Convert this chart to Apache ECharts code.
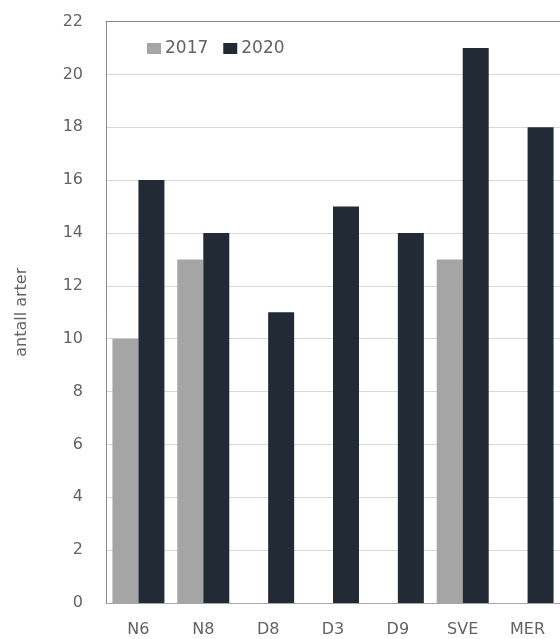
<!DOCTYPE html>
<html>
<head>
<meta charset="utf-8">
<script src="https://cdn.jsdelivr.net/npm/echarts@6/dist/echarts.min.js"></script>
<style>
html,body{margin:0;padding:0;background:#fff;}
#chart{width:560px;height:639px;}
</style>
</head>
<body>
<div id="chart"></div>
<script>
const categories = ['N6', 'N8', 'D8', 'D3', 'D9', 'SVE', 'MER'];
const values2017 = [10, 13, null, null, null, 13, null];
const values2020 = [16, 14, 11, 15, 14, 21, 18];
const seriesNames = ['2017', '2020'];
const yAxisName = 'antall arter';

const chart = echarts.init(document.getElementById('chart'), null, {renderer: 'canvas'});
const font = '"DejaVu Sans", sans-serif';
const txt = '#636363';
chart.setOption({
  animation: false,
  backgroundColor: '#ffffff',
  grid: {
    left: 106, right: -3, top: 21.5, bottom: 36
  },
  legend: {
    left: 147, top: 40, padding: 0,
    itemWidth: 14, itemHeight: 11, itemGap: 15,
    icon: 'rect',
    textStyle: {color: txt, fontFamily: font, fontSize: 17, padding: [0, 0, 0, -1]},
    data: seriesNames
  },
  xAxis: [{
    type: 'category',
    data: categories,
    axisLine: {show: true, lineStyle: {color: '#a6a6a6'}},
    axisTick: {show: false},
    axisLabel: {color: txt, fontFamily: font, fontSize: 16, margin: 19}
  }, {
    type: 'category',
    data: categories,
    position: 'top',
    axisLine: {show: true, lineStyle: {color: '#8a8a8a'}},
    axisTick: {show: false},
    axisLabel: {show: false},
    splitLine: {show: false}
  }],
  yAxis: {
    type: 'value',
    min: 0, max: 22, interval: 2,
    name: yAxisName,
    nameLocation: 'middle',
    nameGap: 76,
    nameTextStyle: {color: txt, fontFamily: font, fontSize: 16},
    axisLine: {show: true, lineStyle: {color: '#8a8a8a'}},
    axisTick: {show: false},
    axisLabel: {color: txt, fontFamily: font, fontSize: 16, margin: 23},
    splitLine: {lineStyle: {color: '#d9d9d9'}}
  },
  series: [
    {name: seriesNames[0], type: 'bar', data: values2017, barWidth: 26, barGap: '0%',
     itemStyle: {color: '#a5a5a5'}},
    {name: seriesNames[1], type: 'bar', data: values2020, barWidth: 26, barGap: '0%',
     itemStyle: {color: '#222a35'}}
  ]
});
</script>
</body>
</html>
